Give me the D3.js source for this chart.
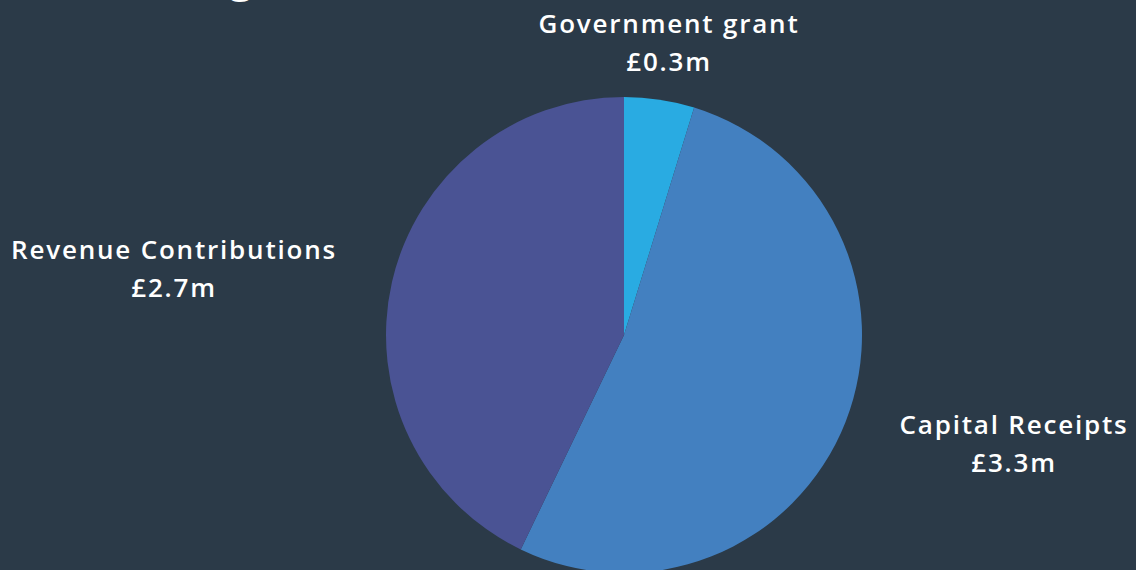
<!DOCTYPE html>
<html lang="en">
	<head>
		<meta charset="utf-8">
		<title>Capital financing</title>
		<script type="text/javascript" src="https://cdn.jsdelivr.net/npm/d3@7"></script>
		<style type="text/css">
			body{
				margin: 0;
				background: #2b3a48;
			}
			svg{
				display: block;
				background: #2b3a48;
			}
		</style>
	</head>
	<body>
		<script type="text/javascript">

			// data
			var categories = ["Government grant", "Capital Receipts", "Revenue Contributions"];
			var values = [0.3, 3.3, 2.7];          // £m
			var valueLabels = ["£0.3m", "£3.3m", "£2.7m"];
			var colors = ["#29abe2", "#4380c0", "#4a5394"];

			var width = 1136, height = 570;
			var cx = 624, cy = 335, r = 238;

			var svg = d3.select("body")
						.append("svg")
						.attr("width", width)
						.attr("height", height);

			// title sits mostly above the frame, only the descender shows
			svg.append("text")
				.attr("x", 253)
				.attr("y", -8)
				.attr("text-anchor", "end")
				.attr("fill", "#fff")
				.attr("font-family", "Open Sans, sans-serif")
				.attr("font-weight", "700")
				.attr("font-size", 42)
				.text("Capital financing");

			var pie = d3.pie().sort(null).value(function(d) {return d;});
			var arc = d3.arc().innerRadius(0).outerRadius(r);

			var slices = svg.append("g")
						.attr("class", "slices")
						.attr("transform", "translate(" + cx + "," + cy + ")");

			slices.selectAll("path")
				.data(pie(values))
				.enter()
				.append("path")
				.attr("d", arc)
				.attr("fill", function(d, i) {return colors[i];});

			// label anchors (centre of each two-line label)
			var labelPos = [[669, 33], [1014, 434], [174, 259]];

			var label = svg.append("g").attr("class", "label");

			var lbl = label.selectAll("text")
				.data(categories)
				.enter()
				.append("text")
				.attr("x", function(d, i) {return labelPos[i][0];})
				.attr("y", function(d, i) {return labelPos[i][1];})
				.attr("text-anchor", "middle")
				.attr("fill", "#fff")
				.attr("font-family", "Open Sans, sans-serif")
				.attr("font-weight", "600")
				.attr("font-size", 26)
				.attr("letter-spacing", 1.8);

			lbl.append("tspan")
				.attr("x", function(d, i) {return labelPos[i][0];})
				.text(function(d) {return d;});

			lbl.append("tspan")
				.attr("x", function(d, i) {return labelPos[i][0];})
				.attr("dy", 38)
				.text(function(d, i) {return valueLabels[i];});

		</script>
	</body>
</html>
